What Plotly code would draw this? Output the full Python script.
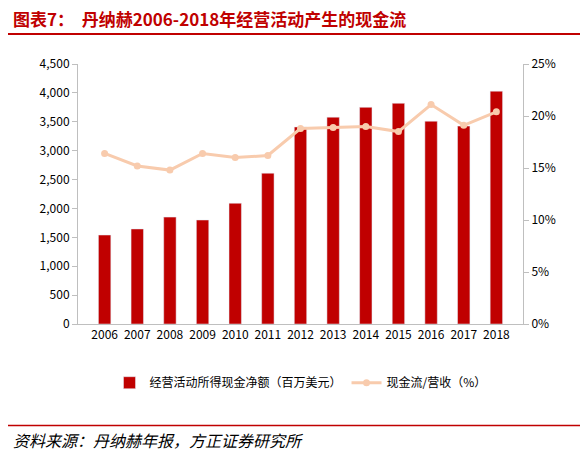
import plotly.graph_objects as go

years = [str(y) for y in range(2006, 2019)]
cash_flow = [1540, 1645, 1850, 1800, 2090, 2610, 3410, 3580, 3750, 3820, 3510, 3425, 4030]
cf_ratio = [16.4, 15.2, 14.8, 16.4, 16.0, 16.2, 18.8, 18.9, 19.0, 18.5, 21.1, 19.1, 20.4]

font = "Noto Sans CJK SC"
fig = go.Figure()
fig.add_trace(go.Bar(x=years, y=cash_flow, name="经营活动所得现金净额（百万美元）",
                     marker_color="#C00000", width=0.38))
fig.add_trace(go.Scatter(x=years, y=cf_ratio, name="现金流/营收（%）", yaxis="y2",
                         mode="lines+markers", line=dict(color="#F8CBAD", width=3),
                         marker=dict(size=7, color="#F8CBAD")))

fig.update_layout(
    width=588, height=462, plot_bgcolor="white", paper_bgcolor="white",
    margin=dict(l=70, r=73, t=56, b=146),
    font=dict(family=font, size=12, color="black"),
    xaxis=dict(showline=True, linecolor="#BFBFBF", ticks="", tickfont=dict(size=12)),
    yaxis=dict(range=[0, 4500], dtick=500, tickformat=",", showgrid=False,
               showline=True, linecolor="#BFBFBF", ticks="outside", tickcolor="#BFBFBF"),
    yaxis2=dict(range=[0, 25], dtick=5, ticksuffix="%", overlaying="y", side="right",
                showgrid=False, showline=True, linecolor="#BFBFBF",
                ticks="outside", tickcolor="#BFBFBF"),
    legend=dict(orientation="h", x=0.5, xanchor="center", y=-0.17, yanchor="top",
                font=dict(size=12)),
    shapes=[
        dict(type="line", xref="paper", yref="paper", x0=-0.16, x1=1.16, y0=1.115, y1=1.115,
             line=dict(color="#C00000", width=2)),
        dict(type="line", xref="paper", yref="paper", x0=-0.16, x1=1.16, y0=-0.39, y1=-0.39,
             line=dict(color="#C00000", width=1.5)),
    ],
    annotations=[
        dict(text="<b>图表7：  丹纳赫2006-2018年经营活动产生的现金流</b>", xref="paper", yref="paper",
             x=-0.15, y=1.175, xanchor="left", yanchor="middle", showarrow=False,
             font=dict(size=17, color="#C00000", family=font)),
        dict(text="<i>资料来源：丹纳赫年报，方正证券研究所</i>", xref="paper", yref="paper",
             x=-0.15, y=-0.445, xanchor="left", yanchor="middle", showarrow=False,
             font=dict(size=16, family=font)),
    ],
)
fig.write_html("out.html")
